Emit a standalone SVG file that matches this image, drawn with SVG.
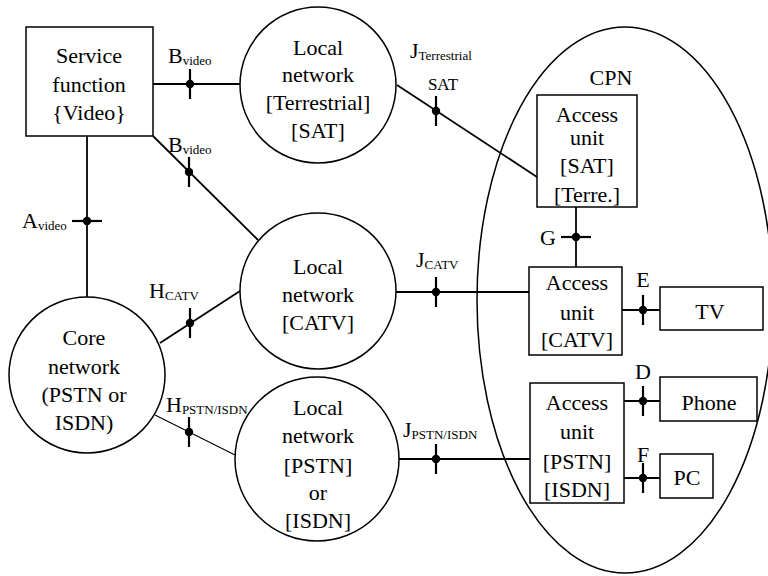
<svg xmlns="http://www.w3.org/2000/svg" width="768" height="576" viewBox="0 0 768 576">
<style>
  .shape { fill: #fff; stroke: #000; stroke-width: 1.5; }
  .ln { fill: none; stroke: #000; stroke-width: 1.8; }
  .thin { fill: none; stroke: #000; stroke-width: 1.1; }
  .tk { stroke: #000; stroke-width: 2.2; }
  .node { font-family: "Liberation Serif", "Times New Roman", serif; font-size: 22px; text-anchor: middle; }
  .lbl { font-family: "Liberation Serif", "Times New Roman", serif; font-size: 22px; }
  .sub { font-size: 13px; }
</style>
<defs>
  <g id="vtick"><line class="tk" x1="0" y1="-15" x2="0" y2="15"/><circle r="4.2" fill="#000"/></g>
  <g id="htick"><line class="tk" x1="-15" y1="0" x2="15" y2="0"/><circle r="4.2" fill="#000"/></g>
</defs>
<rect width="768" height="576" fill="#fff"/>

<g id="cpn" class="node">
  <ellipse cx="625" cy="300" rx="148" ry="273" fill="none" stroke="#000" stroke-width="1.5"/>
  <text x="611" y="85">CPN</text>
</g>

<g id="connectors" class="lbl">
  <line class="ln" x1="153" y1="84" x2="240" y2="84"/>
  <line class="ln" x1="153" y1="136" x2="258" y2="240"/>
  <line class="ln" x1="87" y1="136" x2="87" y2="297"/>
  <line class="ln" x1="160" y1="343" x2="240" y2="291"/>
  <line class="thin" x1="155" y1="415" x2="235" y2="455"/>
  <line class="ln" x1="397" y1="85" x2="537" y2="177"/>
  <line class="ln" x1="396" y1="292" x2="529" y2="292"/>
  <line class="ln" x1="399" y1="459" x2="530" y2="459"/>
  <line class="ln" x1="576" y1="207" x2="576" y2="267"/>
  <line class="ln" x1="622" y1="310" x2="660" y2="310"/>
  <line class="ln" x1="617" y1="401" x2="660" y2="401"/>
  <line class="ln" x1="617" y1="478" x2="660" y2="478"/>
  <use href="#vtick" x="190" y="84"/>
  <use href="#vtick" x="189" y="172"/>
  <use href="#htick" x="87" y="221"/>
  <use href="#vtick" x="190" y="323"/>
  <use href="#vtick" x="189" y="432"/>
  <use href="#vtick" x="436" y="111"/>
  <use href="#vtick" x="436" y="292"/>
  <use href="#vtick" x="436" y="459"/>
  <use href="#htick" x="576" y="237"/>
  <use href="#vtick" x="643" y="310"/>
  <use href="#vtick" x="643" y="401"/>
  <use href="#vtick" x="643" y="478"/>
  <text x="168" y="63">B<tspan class="sub" dy="2">video</tspan></text>
  <text x="168" y="152">B<tspan class="sub" dy="2">video</tspan></text>
  <text x="22" y="228">A<tspan class="sub" dy="2">video</tspan></text>
  <text x="149" y="298">H<tspan class="sub" dy="2">CATV</tspan></text>
  <text x="166" y="412">H<tspan class="sub" dy="2">PSTN/ISDN</tspan></text>
  <text x="410" y="58">J<tspan class="sub" dy="2">Terrestrial</tspan></text>
  <text x="443" y="90" font-size="17" text-anchor="middle">SAT</text>
  <text x="416" y="267">J<tspan class="sub" dy="2">CATV</tspan></text>
  <text x="403" y="437">J<tspan class="sub" dy="2">PSTN/ISDN</tspan></text>
  <text x="540" y="245">G</text>
  <text x="643" y="287" text-anchor="middle">E</text>
  <text x="643" y="379" text-anchor="middle">D</text>
  <text x="643" y="462" text-anchor="middle">F</text>
</g>

<g id="service" class="node">
  <rect class="shape" x="26" y="27" width="127" height="109"/>
  <text x="89" y="63">Service</text>
  <text x="89" y="92">function</text>
  <text x="89" y="120">{Video}</text>
</g>

<g id="local-terrestrial" class="node">
  <circle class="shape" cx="318" cy="85" r="78"/>
  <text x="318" y="55">Local</text>
  <text x="318" y="82">network</text>
  <text x="318" y="110">[Terrestrial]</text>
  <text x="318" y="138">[SAT]</text>
</g>

<g id="local-catv" class="node">
  <circle class="shape" cx="318" cy="291" r="78"/>
  <text x="318" y="274">Local</text>
  <text x="318" y="302">network</text>
  <text x="318" y="330">[CATV]</text>
</g>

<g id="local-pstn" class="node">
  <circle class="shape" cx="317" cy="459" r="82"/>
  <text x="318" y="415">Local</text>
  <text x="318" y="443">network</text>
  <text x="318" y="473">[PSTN]</text>
  <text x="318" y="500">or</text>
  <text x="318" y="528">[ISDN]</text>
</g>

<g id="core" class="node">
  <circle class="shape" cx="87" cy="375" r="78"/>
  <text x="84" y="345">Core</text>
  <text x="84" y="374">network</text>
  <text x="84" y="402">(PSTN or</text>
  <text x="84" y="430">ISDN)</text>
</g>

<g id="access-sat" class="node">
  <rect class="shape" x="537" y="95" width="100" height="112"/>
  <text x="587" y="122">Access</text>
  <text x="587" y="145">unit</text>
  <text x="587" y="173">[SAT]</text>
  <text x="587" y="202">[Terre.]</text>
</g>

<g id="access-catv" class="node">
  <rect class="shape" x="529" y="267" width="93" height="88"/>
  <text x="577" y="290">Access</text>
  <text x="577" y="320">unit</text>
  <text x="577" y="347">[CATV]</text>
</g>

<g id="access-pstn" class="node">
  <rect class="shape" x="530" y="383" width="94" height="120"/>
  <text x="577" y="410">Access</text>
  <text x="577" y="439">unit</text>
  <text x="577" y="469">[PSTN]</text>
  <text x="577" y="497">[ISDN]</text>
</g>

<g id="tv" class="node">
  <rect class="shape" x="660" y="287" width="103" height="43"/>
  <text x="710" y="319">TV</text>
</g>

<g id="phone" class="node">
  <rect class="shape" x="660" y="377" width="97" height="44"/>
  <text x="709" y="410">Phone</text>
</g>

<g id="pc" class="node">
  <rect class="shape" x="660" y="454" width="53" height="44"/>
  <text x="687" y="485">PC</text>
</g>
</svg>
